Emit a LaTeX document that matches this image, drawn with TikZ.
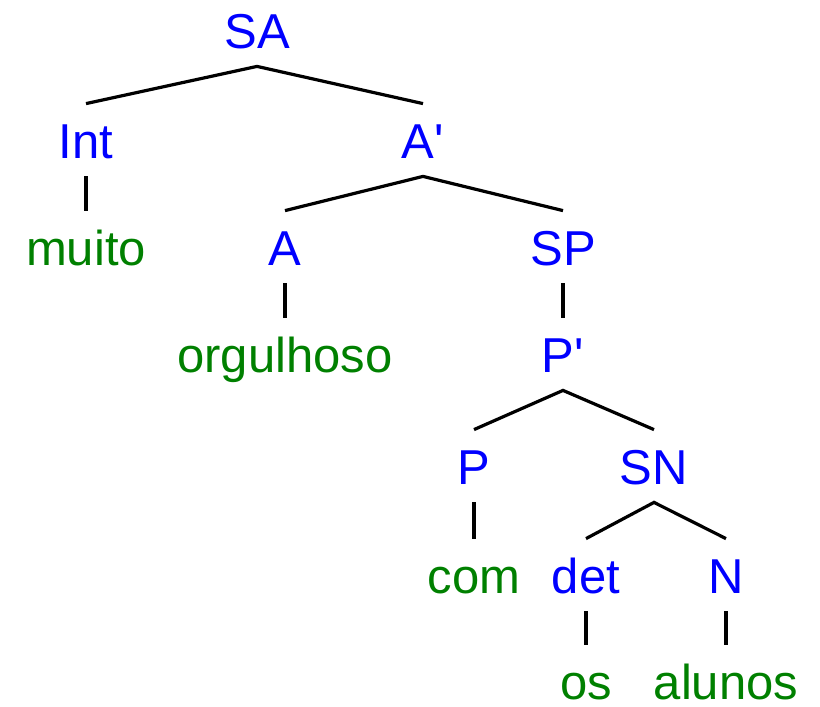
\documentclass[tikz,border=0pt]{standalone}
\usepackage{fontspec}
\setmainfont{Liberation Sans}[Ligatures=TeXOff]
\definecolor{catblue}{RGB}{0,0,255}
\definecolor{wordgreen}{RGB}{0,128,0}
\tikzset{
  lbl/.style={anchor=base, inner xsep=0pt, inner ysep=9pt, text height=18pt, text depth=0pt,
              font=\fontsize{24.5}{29}\selectfont},
  cat/.style={lbl, text=catblue},
  word/.style={lbl, text=wordgreen},
  branch/.style={line width=1.6pt}
}
\begin{document}
\begin{tikzpicture}[x=0.5pt,y=-0.5pt]
\useasboundingbox (0,0) rectangle (820,707);
\node[cat]  (sa)    at (257,48)  {SA};
\node[cat]  (int)   at (86,158)  {Int};
\node[cat]  (abar)  at (423,158) {A'};
\node[word] (muito) at (86,265)  {muito};
\node[cat]  (a)     at (285,265) {A};
\node[cat]  (sp)    at (563,265) {SP};
\node[word] (orgul) at (285,372) {orgulhoso};
\node[cat]  (pbar)  at (563,372) {P'};
\node[cat]  (p)     at (474,484) {P};
\node[cat]  (sn)    at (654,484) {SN};
\node[word] (com)   at (474,593) {com};
\node[cat]  (det)   at (586,593) {det};
\node[cat]  (n)     at (726,593) {N};
\node[word] (os)    at (586,699) {os};
\node[word] (alun)  at (726,699) {alunos};
\draw[branch] (int.north) -- (sa.south) -- (abar.north);
\draw[branch] (int.south) -- (muito.north);
\draw[branch] (a.north) -- (abar.south) -- (sp.north);
\draw[branch] (a.south) -- (orgul.north);
\draw[branch] (sp.south) -- (pbar.north);
\draw[branch] (p.north) -- (pbar.south) -- (sn.north);
\draw[branch] (p.south) -- (com.north);
\draw[branch] (det.north) -- (sn.south) -- (n.north);
\draw[branch] (det.south) -- (os.north);
\draw[branch] (n.south) -- (alun.north);
\end{tikzpicture}
\end{document}
